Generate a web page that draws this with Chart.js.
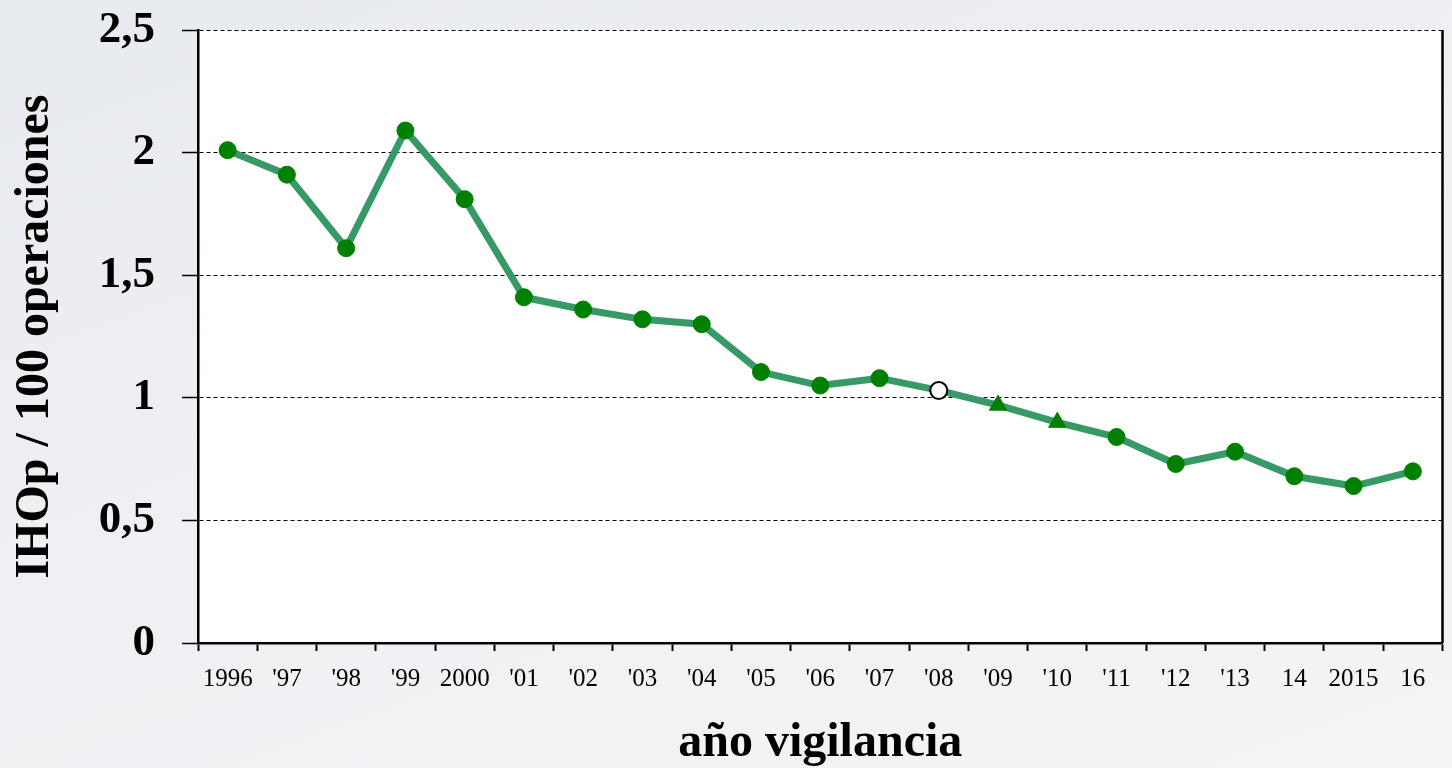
<!DOCTYPE html>
<html>
<head>
<meta charset="utf-8">
<script src="https://cdn.jsdelivr.net/npm/chart.js@4/dist/chart.umd.min.js"></script>
<style>
  html, body { margin: 0; padding: 0; }
  body {
    width: 1452px; height: 768px; overflow: hidden;
    background: linear-gradient(160deg, #e7eaef 0%, #eef0f3 45%, #f3f4f6 100%);
  }
  #wrap { position: relative; width: 1452px; height: 768px; }
</style>
</head>
<body>
<div id="wrap"><canvas id="c"></canvas></div>
<script>
const categories = ["1996", "'97", "'98", "'99", "2000", "'01", "'02", "'03", "'04", "'05", "'06", "'07", "'08", "'09", "'10", "'11", "'12", "'13", "14", "2015", "16"];
const ihopValues = [2.01, 1.91, 1.61, 2.09, 1.81, 1.41, 1.36, 1.32, 1.30, 1.105, 1.05, 1.08, 1.03, 0.97, 0.90, 0.84, 0.73, 0.78, 0.68, 0.64, 0.70];
const markerShapes = ["circle", "circle", "circle", "circle", "circle", "circle", "circle", "circle", "circle", "circle", "circle", "circle", "circle", "triangle", "triangle", "circle", "circle", "circle", "circle", "circle", "circle"];
const openMarkerIndex = 12;
const yTickLabels = ["0", "0,5", "1", "1,5", "2", "2,5"];
const yTitle = "IHOp / 100 operaciones";
const xTitle = "año vigilancia";

const serif = "'Liberation Serif', 'Times New Roman', serif";
const markerGreen = '#008000';

const plotFrame = {
  id: 'plotFrame',
  beforeDraw(chart) {
    const {ctx, chartArea: a} = chart;
    ctx.save();
    ctx.fillStyle = '#ffffff';
    ctx.fillRect(a.left, a.top, a.right - a.left, a.bottom - a.top);
    ctx.restore();
  },
  afterDatasetsDraw(chart) {
    const {ctx, chartArea: a} = chart;
    ctx.save();
    ctx.strokeStyle = '#000';
    ctx.lineWidth = 2.5;
    ctx.beginPath();
    ctx.moveTo(a.right, a.top);
    ctx.lineTo(a.right, a.bottom);
    ctx.stroke();
    ctx.restore();
  }
};

function zeroPad(scale) {
  scale.paddingTop = 0;
  scale.paddingBottom = 0;
  scale.paddingLeft = 0;
  scale.paddingRight = 0;
}

new Chart(document.getElementById('c'), {
  type: 'line',
  data: {
    labels: categories,
    datasets: [{
      data: ihopValues,
      borderColor: '#379a66',
      borderWidth: 7,
      tension: 0,
      pointStyle: markerShapes,
      pointRadius: ihopValues.map((v, i) => markerShapes[i] === 'triangle' ? 10 : 8.5),
      pointHoverRadius: ihopValues.map((v, i) => markerShapes[i] === 'triangle' ? 10 : 8.5),
      pointBackgroundColor: ihopValues.map((v, i) => i === openMarkerIndex ? '#ffffff' : markerGreen),
      pointBorderColor: ihopValues.map((v, i) => i === openMarkerIndex ? '#000000' : markerGreen),
      pointBorderWidth: ihopValues.map((v, i) => i === openMarkerIndex ? 2 : 1),
      clip: false
    }]
  },
  options: {
    responsive: true,
    maintainAspectRatio: false,
    animation: false,
    events: [],
    layout: { padding: { top: 30, right: 9, left: 0, bottom: 0 } },
    plugins: { legend: { display: false }, tooltip: { enabled: false } },
    scales: {
      x: {
        type: 'category',
        offset: true,
        afterFit(scale) { scale.height = 125; zeroPad(scale); },
        grid: {
          display: true,
          offset: true,
          drawOnChartArea: false,
          drawTicks: true,
          tickLength: 8,
          tickColor: '#000',
          tickWidth: 2,
          color: '#000'
        },
        border: { display: true, color: '#000', width: 2.5 },
        ticks: {
          color: '#000',
          font: { family: serif, size: 25, weight: 'normal' },
          padding: 13,
          maxRotation: 0,
          autoSkip: false
        },
        title: {
          display: true,
          text: xTitle,
          color: '#000',
          font: { family: serif, size: 48, weight: 'bold', lineHeight: 1.2 },
          padding: { top: 0, bottom: -4 }
        }
      },
      y: {
        min: 0,
        max: 2.5,
        afterFit(scale) { scale.width = 198; zeroPad(scale); },
        afterBuildTicks(scale) {
          scale.ticks = yTickLabels.map((t, i) => ({ value: i * 0.5 }));
        },
        grid: {
          display: true,
          color: '#000',
          lineWidth: 1,
          drawTicks: true,
          tickLength: 16,
          tickColor: '#000',
          tickWidth: 1.5,
          tickBorderDash: []
        },
        border: { display: true, color: '#000', width: 2.5, dash: [4, 3] },
        ticks: {
          color: '#000',
          font: { family: serif, size: 45, weight: 'bold' },
          padding: 27,
          callback: (v, i) => yTickLabels[i]
        },
        title: {
          display: true,
          text: yTitle,
          color: '#000',
          font: { family: serif, size: 48, weight: 'bold', lineHeight: 1.2 },
          padding: { top: 7, bottom: 0 }
        }
      }
    }
  },
  plugins: [plotFrame]
});
</script>
</body>
</html>
